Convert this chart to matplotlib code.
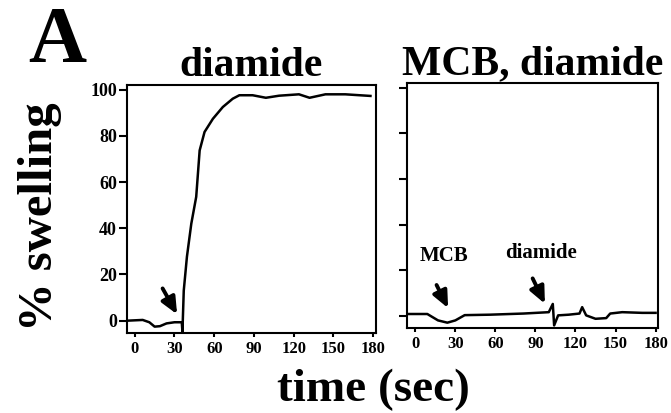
import matplotlib
matplotlib.use("Agg")
from matplotlib import pyplot as plt

plt.rcParams['font.family'] = ['Liberation Serif', 'DejaVu Serif']
plt.rcParams['font.weight'] = 'bold'

# diamide alone: time (sec) vs % swelling
t_dia = [-5, 6, 11, 15, 19, 24, 30, 35.5, 36, 37, 39.4, 42.7, 46.4, 49, 52.7, 59, 66.5,
         74, 79, 89, 99, 109, 124, 132, 144, 159, 178]
sw_dia = [0, 0.3, -0.7, -2.6, -2.4, -1.2, -0.7, -0.7, -4.8, 13, 27.7, 42, 53.6, 73.7, 81.7,
          87.4, 92.5, 96.1, 97.6, 97.6, 96.5, 97.4, 98, 96.5, 98, 98, 97.3]

# MCB then diamide
t_mcb = [-5, 9, 17, 24, 30, 37, 56, 81, 100, 103, 104, 107, 115, 123, 125, 128, 135,
         143, 146, 155, 170, 180]
sw_mcb = [0.8, 0.8, -2, -3, -2, 0.3, 0.5, 1, 1.6, 5.2, -4.2, 0.2, 0.5, 1, 3.8, 0.2, -1.3,
          -1, 1, 1.6, 1.3, 1.3]

xticks = [0, 30, 60, 90, 120, 150, 180]
yticks = [0, 20, 40, 60, 80, 100]

fig = plt.figure(figsize=(6.71, 4.13), dpi=100)
ax1 = fig.add_axes([0.189, 0.194, 0.371, 0.600])
ax2 = fig.add_axes([0.607, 0.206, 0.374, 0.593])

ax1.plot(t_dia, sw_dia, color='black', lw=1.8)
ax2.plot(t_mcb, sw_mcb, color='black', lw=1.8)

for ax in (ax1, ax2):
    ax.set_xlim(-6, 182)
    ax.set_ylim(-5.3, 102)
    ax.set_xticks(xticks)
    ax.set_yticks(yticks)
    for s in ax.spines.values():
        s.set_linewidth(1.5)
    ax.tick_params(axis='y', direction='out', length=6, width=1.5, labelsize=13, pad=1)
    ax.tick_params(axis='x', direction='out', length=3, width=1.5, labelsize=12, pad=3)

ax2.set_yticklabels([])

ax1.set_title('diamide', fontsize=30, fontweight='bold', pad=1)
ax2.set_title('MCB, diamide', fontsize=30, fontweight='bold', pad=1)

arrow = dict(arrowstyle='-|>,head_length=1.0,head_width=0.45', color='black', lw=2.8)
ax1.annotate('', xy=(33, 1.7), xytext=(20, 15), arrowprops=arrow)
ax2.annotate('', xy=(25.5, 2.3), xytext=(15, 14.6), arrowprops=arrow)
ax2.annotate('', xy=(98, 4.2), xytext=(87, 17.5), arrowprops=arrow)
ax2.text(21.5, 26, 'MCB', fontsize=15, ha='center', va='center')
ax2.text(94, 27.5, 'diamide', fontsize=15, ha='center', va='center')

fig.text(0.06, 0.475, '% swelling', rotation=90, fontsize=35, ha='center', va='center')
fig.text(0.556, 0.055, 'time (sec)', fontsize=34, ha='center', va='center')
fig.text(0.085, 0.85, 'A', fontsize=58, ha='center', va='baseline')

plt.savefig('out.png', dpi=100)
